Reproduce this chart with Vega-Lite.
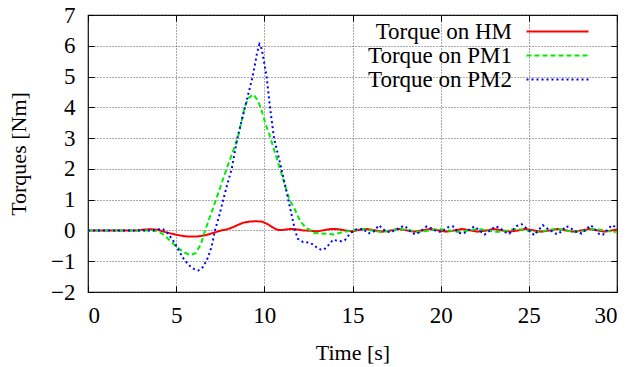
{
  "$schema": "https://vega.github.io/schema/vega-lite/v6.json",
  "width": 529,
  "height": 277,
  "autosize": {"type": "none"},
  "padding": {"left": 88, "top": 15, "right": 18, "bottom": 75},
  "background": "white",
  "config": {
    "view": {"stroke": "#000", "strokeWidth": 1.2},
    "font": "Liberation Serif",
    "legend": {"labelFont": "Liberation Serif", "titleFont": "Liberation Serif"},
    "axis": {
      "labelFont": "Liberation Serif",
      "titleFont": "Liberation Serif",
      "labelFontSize": 23,
      "titleFontSize": 22,
      "titleFontWeight": "normal",
      "labelColor": "#000",
      "titleColor": "#000",
      "domain": false,
      "tickColor": "#000",
      "tickSize": -6,
      "tickWidth": 1,
      "gridColor": "#444",
      "gridDash": [1, 2],
      "gridWidth": 1,
      "gridOpacity": 0.9
    }
  },
  "data": {
    "values": [
      {"s":"Torque on HM","t":0,"v":0},{"s":"Torque on HM","t":2.8,"v":0},{"s":"Torque on HM","t":3.2,"v":0.03},{"s":"Torque on HM","t":3.6,"v":0.04},{"s":"Torque on HM","t":3.95,"v":0.02},{"s":"Torque on HM","t":4.3,"v":-0.04},{"s":"Torque on HM","t":4.7,"v":-0.1},{"s":"Torque on HM","t":5.1,"v":-0.15},{"s":"Torque on HM","t":5.5,"v":-0.19},{"s":"Torque on HM","t":5.9,"v":-0.2},{"s":"Torque on HM","t":6.3,"v":-0.19},{"s":"Torque on HM","t":6.7,"v":-0.15},{"s":"Torque on HM","t":7.1,"v":-0.08},{"s":"Torque on HM","t":7.5,"v":-0.01},{"s":"Torque on HM","t":7.9,"v":0.04},{"s":"Torque on HM","t":8.2,"v":0.1},{"s":"Torque on HM","t":8.5,"v":0.18},{"s":"Torque on HM","t":8.8,"v":0.25},{"s":"Torque on HM","t":9.2,"v":0.29},{"s":"Torque on HM","t":9.6,"v":0.3},{"s":"Torque on HM","t":9.9,"v":0.28},{"s":"Torque on HM","t":10.2,"v":0.2},{"s":"Torque on HM","t":10.5,"v":0.09},{"s":"Torque on HM","t":10.8,"v":0.01},{"s":"Torque on HM","t":11.1,"v":0.02},{"s":"Torque on HM","t":11.5,"v":0.05},{"s":"Torque on HM","t":11.9,"v":0.03},{"s":"Torque on HM","t":12.2,"v":0},{"s":"Torque on HM","t":12.6,"v":-0.01},{"s":"Torque on HM","t":13.0,"v":-0.03},{"s":"Torque on HM","t":13.4,"v":0.01},{"s":"Torque on HM","t":13.8,"v":0.05},{"s":"Torque on HM","t":14.2,"v":0.04},{"s":"Torque on HM","t":14.6,"v":0},{"s":"Torque on HM","t":15.0,"v":-0.03},{"s":"Torque on HM","t":15.4,"v":0.02},{"s":"Torque on HM","t":15.8,"v":0.05},{"s":"Torque on HM","t":16.3,"v":0},{"s":"Torque on HM","t":16.7,"v":-0.04},{"s":"Torque on HM","t":17.2,"v":0},{"s":"Torque on HM","t":17.6,"v":0.05},{"s":"Torque on HM","t":18.1,"v":0},{"s":"Torque on HM","t":18.5,"v":-0.04},{"s":"Torque on HM","t":19.0,"v":0},{"s":"Torque on HM","t":19.4,"v":0.05},{"s":"Torque on HM","t":19.9,"v":0},{"s":"Torque on HM","t":20.3,"v":-0.04},{"s":"Torque on HM","t":20.8,"v":0},{"s":"Torque on HM","t":21.2,"v":0.05},{"s":"Torque on HM","t":21.7,"v":0},{"s":"Torque on HM","t":22.1,"v":-0.04},{"s":"Torque on HM","t":22.6,"v":0},{"s":"Torque on HM","t":23.0,"v":0.05},{"s":"Torque on HM","t":23.5,"v":0},{"s":"Torque on HM","t":23.9,"v":-0.04},{"s":"Torque on HM","t":24.4,"v":0},{"s":"Torque on HM","t":24.8,"v":0.05},{"s":"Torque on HM","t":25.3,"v":0},{"s":"Torque on HM","t":25.7,"v":-0.04},{"s":"Torque on HM","t":26.2,"v":0},{"s":"Torque on HM","t":26.6,"v":0.05},{"s":"Torque on HM","t":27.1,"v":0},{"s":"Torque on HM","t":27.5,"v":-0.04},{"s":"Torque on HM","t":28.0,"v":0},{"s":"Torque on HM","t":28.4,"v":0.05},{"s":"Torque on HM","t":28.9,"v":0},{"s":"Torque on HM","t":29.3,"v":-0.04},{"s":"Torque on HM","t":29.7,"v":0},{"s":"Torque on HM","t":30,"v":0.03},

      {"s":"Torque on PM1","t":0,"v":0},{"s":"Torque on PM1","t":3.6,"v":0},{"s":"Torque on PM1","t":3.9,"v":-0.02},{"s":"Torque on PM1","t":4.2,"v":-0.1},{"s":"Torque on PM1","t":4.6,"v":-0.3},{"s":"Torque on PM1","t":5.0,"v":-0.52},{"s":"Torque on PM1","t":5.4,"v":-0.7},{"s":"Torque on PM1","t":5.8,"v":-0.8},{"s":"Torque on PM1","t":6.1,"v":-0.74},{"s":"Torque on PM1","t":6.4,"v":-0.45},{"s":"Torque on PM1","t":6.64,"v":0},{"s":"Torque on PM1","t":6.95,"v":0.5},{"s":"Torque on PM1","t":7.26,"v":1.0},{"s":"Torque on PM1","t":7.56,"v":1.5},{"s":"Torque on PM1","t":7.86,"v":2.0},{"s":"Torque on PM1","t":8.18,"v":2.5},{"s":"Torque on PM1","t":8.49,"v":3.0},{"s":"Torque on PM1","t":8.69,"v":3.5},{"s":"Torque on PM1","t":8.88,"v":4.0},{"s":"Torque on PM1","t":9.1,"v":4.3},{"s":"Torque on PM1","t":9.38,"v":4.42},{"s":"Torque on PM1","t":9.6,"v":4.25},{"s":"Torque on PM1","t":9.79,"v":4.0},{"s":"Torque on PM1","t":10.05,"v":3.5},{"s":"Torque on PM1","t":10.35,"v":3.0},{"s":"Torque on PM1","t":10.62,"v":2.5},{"s":"Torque on PM1","t":10.89,"v":2.0},{"s":"Torque on PM1","t":11.15,"v":1.5},{"s":"Torque on PM1","t":11.42,"v":1.0},{"s":"Torque on PM1","t":11.7,"v":0.72},{"s":"Torque on PM1","t":12.02,"v":0.32},{"s":"Torque on PM1","t":12.3,"v":0.12},{"s":"Torque on PM1","t":12.6,"v":0},{"s":"Torque on PM1","t":12.8,"v":-0.08},{"s":"Torque on PM1","t":13.3,"v":-0.1},{"s":"Torque on PM1","t":13.9,"v":-0.13},{"s":"Torque on PM1","t":14.5,"v":-0.05},{"s":"Torque on PM1","t":15.0,"v":0},{"s":"Torque on PM1","t":15.5,"v":0.05},{"s":"Torque on PM1","t":16.1,"v":0},{"s":"Torque on PM1","t":16.6,"v":-0.05},{"s":"Torque on PM1","t":17.2,"v":0},{"s":"Torque on PM1","t":17.7,"v":0.05},{"s":"Torque on PM1","t":18.3,"v":0},{"s":"Torque on PM1","t":18.8,"v":-0.05},{"s":"Torque on PM1","t":19.4,"v":0},{"s":"Torque on PM1","t":19.9,"v":0.05},{"s":"Torque on PM1","t":20.5,"v":0},{"s":"Torque on PM1","t":21.0,"v":-0.05},{"s":"Torque on PM1","t":21.6,"v":0},{"s":"Torque on PM1","t":22.1,"v":0.05},{"s":"Torque on PM1","t":22.7,"v":0},{"s":"Torque on PM1","t":23.2,"v":-0.05},{"s":"Torque on PM1","t":23.8,"v":0},{"s":"Torque on PM1","t":24.3,"v":0.05},{"s":"Torque on PM1","t":24.9,"v":0},{"s":"Torque on PM1","t":25.4,"v":-0.05},{"s":"Torque on PM1","t":26.0,"v":0},{"s":"Torque on PM1","t":26.5,"v":0.05},{"s":"Torque on PM1","t":27.1,"v":0},{"s":"Torque on PM1","t":27.6,"v":-0.05},{"s":"Torque on PM1","t":28.2,"v":0},{"s":"Torque on PM1","t":28.7,"v":0.05},{"s":"Torque on PM1","t":29.3,"v":0},{"s":"Torque on PM1","t":29.8,"v":-0.05},{"s":"Torque on PM1","t":30,"v":-0.03},

      {"s":"Torque on PM2","t":0,"v":0},{"s":"Torque on PM2","t":3.7,"v":0},{"s":"Torque on PM2","t":4.0,"v":0.04},{"s":"Torque on PM2","t":4.25,"v":0.04},{"s":"Torque on PM2","t":4.5,"v":-0.08},{"s":"Torque on PM2","t":4.8,"v":-0.3},{"s":"Torque on PM2","t":5.1,"v":-0.6},{"s":"Torque on PM2","t":5.4,"v":-0.9},{"s":"Torque on PM2","t":5.7,"v":-1.12},{"s":"Torque on PM2","t":6.0,"v":-1.25},{"s":"Torque on PM2","t":6.26,"v":-1.3},{"s":"Torque on PM2","t":6.5,"v":-1.2},{"s":"Torque on PM2","t":6.75,"v":-0.95},{"s":"Torque on PM2","t":7.0,"v":-0.55},{"s":"Torque on PM2","t":7.2,"v":0},{"s":"Torque on PM2","t":7.45,"v":0.5},{"s":"Torque on PM2","t":7.67,"v":1.0},{"s":"Torque on PM2","t":7.9,"v":1.5},{"s":"Torque on PM2","t":8.15,"v":2.0},{"s":"Torque on PM2","t":8.47,"v":3.0},{"s":"Torque on PM2","t":8.9,"v":4.0},{"s":"Torque on PM2","t":9.34,"v":5.0},{"s":"Torque on PM2","t":9.6,"v":5.8},{"s":"Torque on PM2","t":9.72,"v":6.05},{"s":"Torque on PM2","t":9.85,"v":5.9},{"s":"Torque on PM2","t":10.13,"v":5.0},{"s":"Torque on PM2","t":10.32,"v":4.0},{"s":"Torque on PM2","t":10.55,"v":3.0},{"s":"Torque on PM2","t":10.97,"v":2.0},{"s":"Torque on PM2","t":11.36,"v":1.0},{"s":"Torque on PM2","t":11.55,"v":0.5},{"s":"Torque on PM2","t":11.74,"v":0},{"s":"Torque on PM2","t":11.9,"v":-0.27},{"s":"Torque on PM2","t":12.2,"v":-0.38},{"s":"Torque on PM2","t":12.5,"v":-0.39},{"s":"Torque on PM2","t":12.75,"v":-0.45},{"s":"Torque on PM2","t":12.97,"v":-0.55},{"s":"Torque on PM2","t":13.2,"v":-0.62},{"s":"Torque on PM2","t":13.39,"v":-0.62},{"s":"Torque on PM2","t":13.6,"v":-0.5},{"s":"Torque on PM2","t":13.75,"v":-0.4},{"s":"Torque on PM2","t":13.9,"v":-0.3},{"s":"Torque on PM2","t":14.1,"v":-0.33},{"s":"Torque on PM2","t":14.37,"v":-0.35},{"s":"Torque on PM2","t":14.56,"v":-0.32},{"s":"Torque on PM2","t":14.86,"v":-0.1},{"s":"Torque on PM2","t":15.2,"v":0.03},{"s":"Torque on PM2","t":15.6,"v":0.05},{"s":"Torque on PM2","t":15.9,"v":-0.1},{"s":"Torque on PM2","t":16.2,"v":-0.04},{"s":"Torque on PM2","t":16.5,"v":0.17},{"s":"Torque on PM2","t":16.9,"v":-0.04},{"s":"Torque on PM2","t":17.2,"v":-0.06},{"s":"Torque on PM2","t":17.5,"v":0.04},{"s":"Torque on PM2","t":17.9,"v":0.15},{"s":"Torque on PM2","t":18.0,"v":0.13},{"s":"Torque on PM2","t":18.35,"v":-0.08},{"s":"Torque on PM2","t":18.6,"v":-0.13},{"s":"Torque on PM2","t":18.8,"v":-0.05},{"s":"Torque on PM2","t":19.2,"v":0.13},{"s":"Torque on PM2","t":19.5,"v":0.06},{"s":"Torque on PM2","t":19.8,"v":-0.04},{"s":"Torque on PM2","t":20.1,"v":-0.04},{"s":"Torque on PM2","t":20.4,"v":0.1},{"s":"Torque on PM2","t":20.7,"v":0.13},{"s":"Torque on PM2","t":21.0,"v":-0.08},{"s":"Torque on PM2","t":21.3,"v":-0.1},{"s":"Torque on PM2","t":21.6,"v":0.02},{"s":"Torque on PM2","t":21.9,"v":0.13},{"s":"Torque on PM2","t":22.2,"v":0},{"s":"Torque on PM2","t":22.5,"v":-0.13},{"s":"Torque on PM2","t":22.8,"v":0},{"s":"Torque on PM2","t":23.1,"v":0.13},{"s":"Torque on PM2","t":23.35,"v":0.09},{"s":"Torque on PM2","t":23.6,"v":-0.05},{"s":"Torque on PM2","t":23.9,"v":-0.1},{"s":"Torque on PM2","t":24.3,"v":0.14},{"s":"Torque on PM2","t":24.6,"v":0.2},{"s":"Torque on PM2","t":24.9,"v":0.05},{"s":"Torque on PM2","t":25.3,"v":-0.15},{"s":"Torque on PM2","t":25.8,"v":0.17},{"s":"Torque on PM2","t":26.0,"v":0.08},{"s":"Torque on PM2","t":26.5,"v":-0.1},{"s":"Torque on PM2","t":26.7,"v":-0.11},{"s":"Torque on PM2","t":27.1,"v":0.14},{"s":"Torque on PM2","t":27.3,"v":0.1},{"s":"Torque on PM2","t":27.7,"v":-0.05},{"s":"Torque on PM2","t":28.0,"v":-0.1},{"s":"Torque on PM2","t":28.5,"v":0.17},{"s":"Torque on PM2","t":28.7,"v":0.08},{"s":"Torque on PM2","t":29.0,"v":-0.12},{"s":"Torque on PM2","t":29.2,"v":-0.14},{"s":"Torque on PM2","t":29.7,"v":0.17},{"s":"Torque on PM2","t":30,"v":0.1}
    ]
  },
  "resolve": {"axis": {"x": "independent", "y": "independent"}},
  "layer": [
    {
      "mark": {"type": "line", "strokeWidth": 2, "clip": true},
      "encoding": {
        "x": {
          "field": "t", "type": "quantitative",
          "scale": {"domain": [0, 30], "nice": false},
          "axis": {"orient": "bottom", "title": "Time [s]", "values": [0, 5, 10, 15, 20, 25, 30], "grid": true, "labelPadding": 18, "titlePadding": 15}
        },
        "y": {
          "field": "v", "type": "quantitative",
          "scale": {"domain": [-2, 7], "nice": false},
          "axis": {"orient": "left", "title": "Torques [Nm]", "values": [-2, -1, 0, 1, 2, 3, 4, 5, 6, 7], "grid": true, "labelPadding": 19, "titlePadding": 20}
        },
        "color": {
          "field": "s", "type": "nominal",
          "scale": {"domain": ["Torque on HM", "Torque on PM1", "Torque on PM2"], "range": ["#ff0000", "#00ee00", "#0000ff"]},
          "legend": {
            "title": null,
            "orient": "none",
            "legendX": 458,
            "legendY": 5,
            "symbolType": "M-3,0H3",
            "symbolSize": 427,
            "symbolStrokeWidth": 2,
            "labelFont": "Liberation Serif",
            "labelFontSize": 23,
            "labelColor": "#000",
            "labelAlign": "right",
            "labelOffset": -57,
            "labelLimit": 300,
            "padding": 0,
            "rowPadding": 0
          }
        },
        "strokeDash": {
          "field": "s", "type": "nominal",
          "scale": {"domain": ["Torque on HM", "Torque on PM1", "Torque on PM2"], "range": [[1, 0], [5, 3], [2, 3]]},
          "legend": null
        }
      }
    },
    {
      "mark": {"type": "line", "opacity": 0},
      "encoding": {
        "x": {"field": "t", "type": "quantitative", "scale": {"domain": [0, 30], "nice": false}, "axis": {"orient": "top", "title": null, "labels": false, "grid": false, "values": [0, 5, 10, 15, 20, 25, 30]}},
        "y": {"field": "v", "type": "quantitative", "scale": {"domain": [-2, 7], "nice": false}, "axis": {"orient": "right", "title": null, "labels": false, "grid": false, "values": [-2, -1, 0, 1, 2, 3, 4, 5, 6, 7]}}
      }
    }
  ]
}
